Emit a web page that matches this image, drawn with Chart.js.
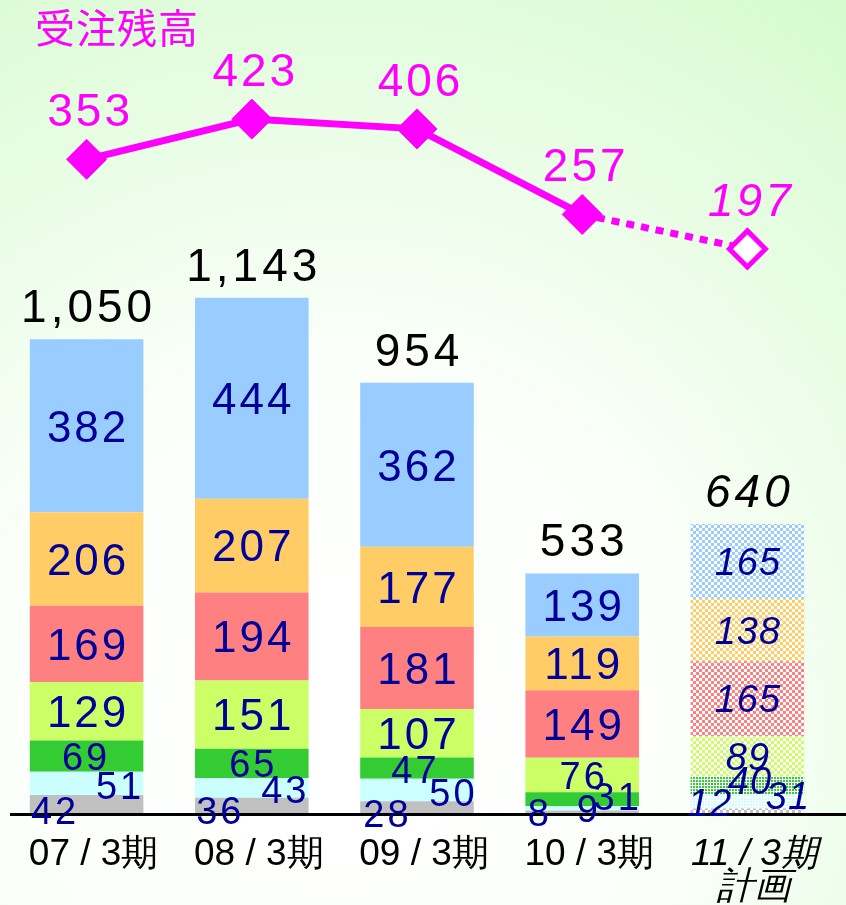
<!DOCTYPE html>
<html>
<head>
<meta charset="utf-8">
<script src="https://cdn.jsdelivr.net/npm/chart.js@4.4.1/dist/chart.umd.min.js"></script>
<style>
    html, body { margin: 0; padding: 0; background: #ffffff; }
    #wrap { width: 846px; height: 905px; }
</style>
</head>
<body>
<div id="wrap"><canvas id="orderChart" width="846" height="905"></canvas></div>
<script>
    // periods (last one is the plan)
    const periods = ['07 / 3期', '08 / 3期', '09 / 3期', '10 / 3期', '11 / 3期'];
    const planNote = '計画';
    const planIndex = 4;

    // stacked segments, bottom to top
    const segGray = [42, 36, 28, 8, 12];
    const segCyan = [51, 43, 50, 9, 31];
    const segGreen = [69, 65, 47, 31, 40];
    const segLime = [129, 151, 107, 76, 89];
    const segRed = [169, 194, 181, 149, 165];
    const segOrange = [206, 207, 177, 119, 138];
    const segBlue = [382, 444, 362, 139, 165];
    const totals = ['1,050', '1,143', '954', '533', '640'];

    // order backlog line
    const backlogTitle = '受注残高';
    const backlog = [353, 423, 406, 257, 197];

    const segments = [segGray, segCyan, segGreen, segLime, segRed, segOrange, segBlue];
    const segColors = ['#c0c0c0', '#ccffff', '#33cc33', '#ccff66', '#ff8080', '#ffcc66', '#99ccff'];

    const canvas = document.getElementById('orderChart');
    const ctx2d = canvas.getContext('2d');

    function makePattern(color, kind) {
        const tile = document.createElement('canvas');
        tile.width = 6;
        tile.height = 6;
        const g = tile.getContext('2d');
        g.fillStyle = '#ffffff';
        g.fillRect(0, 0, 6, 6);
        g.fillStyle = color;
        if (kind === 'dots') {
            for (let x = 0; x < 6; x += 3) {
                for (let y = 0; y < 6; y += 3) {
                    g.fillRect(x, y, 2, 2);
                }
            }
        } else {
            g.fillRect(0, 0, 3, 3);
            g.fillRect(3, 3, 3, 3);
        }
        return ctx2d.createPattern(tile, 'repeat');
    }

    const planPatterns = segColors.map((c, i) => makePattern(c, i === 1 || i === 2 ? 'dots' : 'check'));

    // small bottom labels are nudged beside each other (dx, dy in px)
    const nudges = [
        [[-33, 6], [-33, 5], [-31, 6], [-44, 0], [-38, -9]],
        [[32, 2], [32, 1], [35, 2], [5, 0], [40, -6]],
        [[-2, 0], [0, 0], [-3, 1], [34, -3], [2, -5]]
    ];

    const FONT = '"Liberation Sans", Arial, sans-serif';

    function text(ctx, str, x, y, size, color, italic, spacing) {
        ctx.save();
        ctx.font = (italic ? 'italic ' : '') + size + 'px ' + FONT;
        ctx.fillStyle = color;
        ctx.textAlign = 'center';
        ctx.textBaseline = 'alphabetic';
        const sp = spacing || 0;
        if (sp) {
            ctx.letterSpacing = sp + 'px';
        }
        // letterSpacing adds a trailing gap, shift back by half of it
        ctx.fillText(str, x + sp / 2, y);
        ctx.restore();
    }

    const backgroundPlugin = {
        id: 'bg',
        beforeDraw(chart) {
            const { ctx, width, height } = chart;
            const grad = ctx.createRadialGradient(340, 720, 60, 340, 720, 900);
            grad.addColorStop(0, '#ffffff');
            grad.addColorStop(0.35, '#fbfffa');
            grad.addColorStop(1, '#d4fbcd');
            ctx.save();
            ctx.fillStyle = grad;
            ctx.fillRect(0, 0, width, height);
            ctx.restore();
        }
    };

    const labelPlugin = {
        id: 'labels',
        afterDatasetsDraw(chart) {
            const { ctx } = chart;
            const xScale = chart.scales.x;
            const baseY = chart.scales.y.getPixelForValue(0);

            // axis line
            ctx.save();
            ctx.strokeStyle = '#000000';
            ctx.lineWidth = 3;
            ctx.beginPath();
            ctx.moveTo(10, baseY + 0.5);
            ctx.lineTo(846, baseY + 0.5);
            ctx.stroke();
            ctx.restore();

            // segment values
            segments.forEach((values, ds) => {
                const meta = chart.getDatasetMeta(ds + 1);
                meta.data.forEach((bar, i) => {
                    const plan = i === planIndex;
                    const small = ds < 3 || values[i] < 80;
                    const size = plan ? 38 : (small ? 38 : 44);
                    let x = bar.x;
                    let cy = (bar.y + bar.base) / 2;
                    if (ds < 3) {
                        x += nudges[ds][i][0];
                        cy += nudges[ds][i][1];
                    }
                    text(ctx, String(values[i]), x, cy + size * 0.358, size, '#000099', plan, plan ? 1 : 3);
                });
            });

            // totals above the stacks
            const topMeta = chart.getDatasetMeta(segments.length);
            topMeta.data.forEach((bar, i) => {
                text(ctx, totals[i], bar.x, bar.y - 17, 46, '#000000', i === planIndex, 4);
            });

            // backlog values
            const lineMeta = chart.getDatasetMeta(0);
            lineMeta.data.forEach((pt, i) => {
                text(ctx, String(backlog[i]), pt.x + 2, pt.y - 33, 46, '#ff00ff', i === planIndex, 3);
            });
            ctx.save();
            ctx.font = '40px "Noto Sans CJK JP", sans-serif';
            ctx.fillStyle = '#ff00ff';
            ctx.letterSpacing = '1px';
            ctx.textAlign = 'left';
            ctx.fillText(backlogTitle, 35, 43);
            ctx.restore();

            // category labels
            periods.forEach((p, i) => {
                const x = xScale.getPixelForValue(i) + 7;
                const plan = i === planIndex;
                text(ctx, p, x, 865, 37, '#000000', plan, 0);
                if (plan) {
                    text(ctx, planNote, x, 898, 37, '#000000', true, 0);
                }
            });
        }
    };

    const barSets = segments.map((values, i) => ({
        type: 'bar',
        data: values,
        yAxisID: 'y',
        stack: 'total',
        backgroundColor: (c) => (c.dataIndex === planIndex ? planPatterns[i] : segColors[i]),
        borderWidth: 0,
        barPercentage: 0.6875,
        categoryPercentage: 1
    }));

    new Chart(canvas, {
        type: 'bar',
        data: {
            labels: periods,
            datasets: [{
                type: 'line',
                data: backlog,
                yAxisID: 'y1',
                borderColor: '#ff00ff',
                borderWidth: 7,
                borderCapStyle: 'butt',
                tension: 0,
                pointStyle: 'rectRot',
                pointRadius: [20, 20, 20, 20, 18],
                pointBackgroundColor: ['#ff00ff', '#ff00ff', '#ff00ff', '#ff00ff', '#ffffff'],
                pointBorderColor: '#ff00ff',
                pointBorderWidth: [1, 1, 1, 1, 5],
                segment: {
                    borderDash: (c) => (c.p1DataIndex === planIndex ? [8, 7] : undefined)
                }
            }, ...barSets]
        },
        options: {
            responsive: false,
            animation: false,
            devicePixelRatio: 1,
            layout: {
                autoPadding: false,
                padding: { left: 4, right: 16, top: 10, bottom: 91 }
            },
            plugins: {
                legend: { display: false },
                tooltip: { enabled: false }
            },
            scales: {
                x: {
                    display: false,
                    stacked: true
                },
                y: {
                    display: false,
                    stacked: true,
                    min: 0,
                    max: 1775
                },
                y1: {
                    display: false,
                    min: -787,
                    max: 613
                }
            }
        },
        plugins: [backgroundPlugin, labelPlugin]
    });
</script>
</body>
</html>
